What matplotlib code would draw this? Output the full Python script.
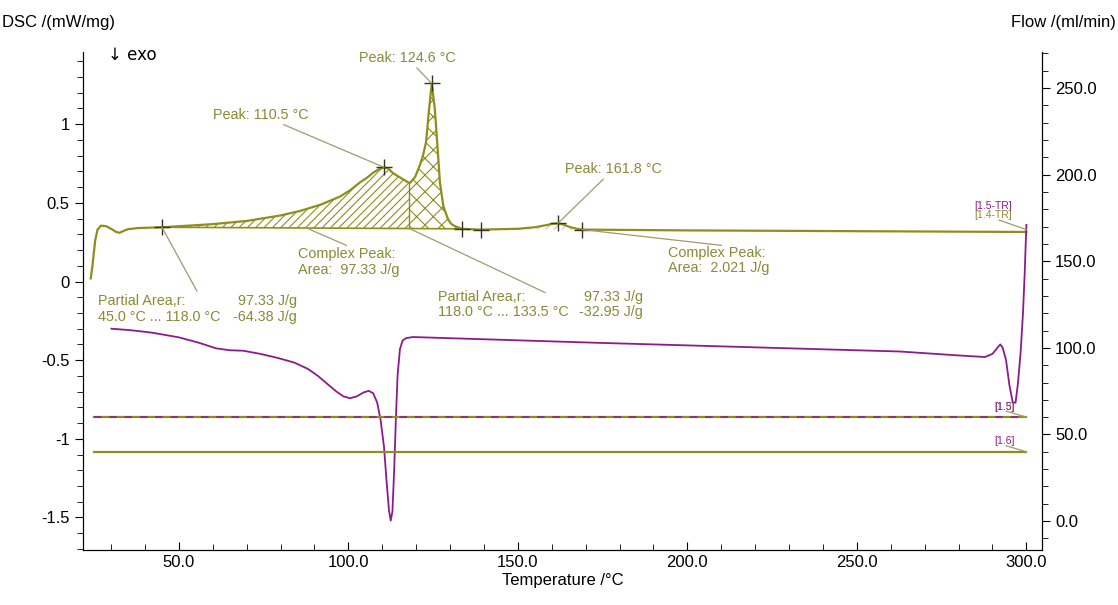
import matplotlib
matplotlib.use("Agg")
import matplotlib.pyplot as plt
from matplotlib.ticker import MultipleLocator, FuncFormatter
import numpy as np

plt.rcParams["font.family"] = ["Liberation Sans", "DejaVu Sans"]
plt.rcParams["hatch.linewidth"] = 0.8

# DSC curve, first heating (olive)
dsc1_t = [24, 24.5, 25.3, 26, 27, 28.5, 30, 31.5, 32.5, 33.5, 35, 38, 45, 55, 60, 70,
          80, 86, 92, 97.5, 100.5, 103.4, 105.5, 107.2, 108.8, 110.5, 111.8, 113.1,
          114.6, 116.1, 118.1, 119.7, 121.0, 122.0, 122.9, 123.8, 124.6, 125.5,
          126.2, 127.0, 128.0, 129.4, 130.4, 131.4, 133.5, 139, 150, 155, 158, 160,
          161.8, 163.5, 165.5, 167.5, 169, 200, 250, 300]
dsc1_v = [0.02, 0.1, 0.26, 0.33, 0.355, 0.352, 0.335, 0.315, 0.31, 0.32, 0.333, 0.34,
          0.345, 0.358, 0.365, 0.385, 0.42, 0.45, 0.49, 0.54, 0.58, 0.63, 0.66, 0.69,
          0.712, 0.726, 0.718, 0.69, 0.67, 0.65, 0.625, 0.665, 0.735, 0.8, 0.885,
          1.095, 1.26, 1.095, 0.885, 0.63, 0.48, 0.395, 0.365, 0.352, 0.335, 0.33,
          0.335, 0.345, 0.357, 0.366, 0.37, 0.362, 0.345, 0.335, 0.33, 0.325, 0.32,
          0.315]

# DSC curve, second segment (purple)
dsc2_t = [30.1, 36, 42, 50, 56, 61, 65, 69, 74, 79, 84, 88, 91, 94, 96.5, 98.5, 100.5,
          102.5, 104.5, 106, 107.3, 108.5, 109.5, 110.5, 111.3, 112, 112.5, 113, 113.5,
          114, 114.5, 115.2, 116, 117, 119, 174, 262.7, 280, 287.8, 290, 291.5, 292.3,
          293, 294, 295, 296, 296.8, 297.5, 298.3, 299, 299.5, 300]
dsc2_v = [-0.30, -0.31, -0.325, -0.355, -0.39, -0.425, -0.437, -0.44, -0.46, -0.485,
          -0.515, -0.555, -0.6, -0.655, -0.7, -0.73, -0.742, -0.73, -0.705, -0.695,
          -0.71, -0.77, -0.88, -1.05, -1.28, -1.46, -1.52, -1.46, -1.2, -0.88, -0.6,
          -0.43, -0.375, -0.36, -0.353, -0.39, -0.445, -0.47, -0.48, -0.46, -0.42,
          -0.40, -0.42, -0.5, -0.66, -0.77, -0.77, -0.65, -0.45, -0.2, 0.05, 0.36]

flow_t = [25, 300]
flow_a = [60, 60]
flow_b = [40, 40]

# marked points on the olive curve
mark_t = [45, 110.5, 124.6, 133.5, 139, 161.8, 169]

OLIVE = "#8e8e1c"
TXT = "#8a8a38"
PURPLE = "#8a1c8a"
LEAD = "#9c9c70"


def interp(t):
    return np.interp(t, dsc1_t, dsc1_v)


fig = plt.figure(figsize=(11.18, 6.05), dpi=100)
ax = fig.add_axes([0.0742, 0.0909, 0.8578, 0.8231])
ax2 = ax.twinx()

# hatched areas
tt = np.linspace(45, 118, 300)
base = np.interp(tt, [45, 133.5], [0.345, 0.335])
ax.fill_between(tt, base, interp(tt), facecolor="none", edgecolor=OLIVE,
                hatch="////", linewidth=0)
tt2 = np.linspace(118, 133.5, 200)
base2 = np.interp(tt2, [45, 133.5], [0.345, 0.335])
ax.fill_between(tt2, base2, interp(tt2), facecolor="none", edgecolor=OLIVE,
                hatch="xx", linewidth=0)
ax.plot([45, 133.5], [0.345, 0.335], color=OLIVE, lw=1.2)
ax.plot([118, 118], [0.344, interp(118)], color=OLIVE, lw=1)
tt3 = np.linspace(139, 169, 60)
ax.fill_between(tt3, 0.33, interp(tt3), facecolor="none", edgecolor=OLIVE,
                hatch="////", linewidth=0, alpha=0.5)

ax.plot(dsc1_t, dsc1_v, color=OLIVE, lw=1.6, solid_joinstyle="round")
ax.plot(dsc2_t, dsc2_v, color=PURPLE, lw=1.3, solid_joinstyle="round")
ax.plot(mark_t, interp(mark_t), linestyle="none", marker="+", ms=11, mew=1,
        color="#333322")

ax2.plot(flow_t, flow_a, color=OLIVE, lw=1.6)
ax2.plot(flow_t, flow_a, color=PURPLE, lw=1.1, dashes=(5, 5))
ax2.plot(flow_t, flow_b, color=OLIVE, lw=1.6)

ax.set_xlim(21.7, 304.6)
ax.set_ylim(-1.707, 1.459)
ax2.set_ylim(-16.7, 270.8)

for a in (ax, ax2):
    a.spines["top"].set_visible(False)
ax.xaxis.set_major_locator(MultipleLocator(50))
ax.xaxis.set_minor_locator(MultipleLocator(10))
ax.yaxis.set_major_locator(MultipleLocator(0.5))
ax.yaxis.set_minor_locator(MultipleLocator(0.1))
ax2.yaxis.set_major_locator(MultipleLocator(50))
ax2.yaxis.set_minor_locator(MultipleLocator(10))
ax.xaxis.set_major_formatter(FuncFormatter(lambda v, p: f"{v:.1f}"))
ax.yaxis.set_major_formatter(FuncFormatter(lambda v, p: f"{v:g}"))
ax2.yaxis.set_major_formatter(FuncFormatter(lambda v, p: f"{v:.1f}"))
ax.tick_params(axis="x", which="both", direction="in", labelsize=12)
ax.tick_params(axis="x", which="major", length=6)
ax.tick_params(axis="x", which="minor", length=4)
ax.tick_params(axis="y", which="major", length=6, labelsize=12)
ax.tick_params(axis="y", which="minor", length=4)
ax2.tick_params(axis="y", which="major", length=6, labelsize=12)
ax2.tick_params(axis="y", which="minor", length=4)

ax.set_xlabel("Temperature /°C", fontsize=12, labelpad=2)
fig.text(0.002, 0.962, "DSC /(mW/mg)", fontsize=12, va="center")
fig.text(0.998, 0.962, "Flow /(ml/min)", fontsize=12, va="center", ha="right")
ax.text(29, 1.44, "↓ exo", fontsize=12, va="center", family=["DejaVu Sans"])

fs = 10.4
ann = dict(color=TXT, fontsize=fs)
lead = dict(arrowstyle="-", color=LEAD, lw=0.9, shrinkA=0, shrinkB=0)

ax.annotate("Peak: 124.6 °C", xy=(124.6, interp(124.6)), xytext=(103.1, 1.42),
            arrowprops=lead, va="center", **ann)
ax.annotate("Peak: 110.5 °C", xy=(110.5, interp(110.5)), xytext=(60, 1.06),
            arrowprops=lead, va="center", **ann)
ax.annotate("Peak: 161.8 °C", xy=(161.8, interp(161.8)), xytext=(163.9, 0.713),
            arrowprops=lead, va="center", **ann)
ax.plot([45, 55.3], [0.345, -0.06], color=LEAD, lw=0.9)
ax.text(26.2, -0.175, "Partial Area,r:\n45.0 °C ... 118.0 °C", va="center",
        linespacing=1.15, **ann)
ax.text(84.7, -0.175, "97.33 J/g\n-64.38 J/g", va="center", ha="right",
        linespacing=1.15, **ann)
ax.plot([88.4, 99.4], [0.333, 0.23], color=LEAD, lw=0.9)
ax.text(85.0, 0.125, "Complex Peak:\nArea:  97.33 J/g", va="center",
        linespacing=1.15, **ann)
ax.plot([118, 158], [0.337, -0.07], color=LEAD, lw=0.9)
ax.text(126.4, -0.145, "Partial Area,r:\n118.0 °C ... 133.5 °C", va="center",
        linespacing=1.1, **ann)
ax.text(186.9, -0.145, "97.33 J/g\n-32.95 J/g", va="center", ha="right",
        linespacing=1.1, **ann)
ax.plot([169, 210], [0.33, 0.23], color=LEAD, lw=0.9)
ax.text(194.2, 0.134, "Complex Peak:\nArea:  2.021 J/g", va="center",
        linespacing=1.15, **ann)

# curve labels at right end
sfs = 7.5
ax.text(284.5, 0.48, "[1.5-TR]", color=PURPLE, fontsize=sfs, va="center")
ax.text(284.5, 0.42, "[1.4-TR]", color=TXT, fontsize=sfs, va="center")
ax.plot([292, 300], [0.39, 0.33], color=LEAD, lw=0.9)
ax2.text(290.5, 66, "[1.3]", color=TXT, fontsize=sfs, va="center")
ax2.text(290.5, 66, "[1.5]", color=PURPLE, fontsize=sfs, va="center")
ax2.plot([294, 300], [63.5, 60], color=LEAD, lw=0.9)
ax2.text(290.5, 46, "[1.6]", color=PURPLE, fontsize=sfs, va="center")
ax2.plot([294, 300], [43.5, 40], color=LEAD, lw=0.9)

fig.savefig("out.png", dpi=100)
